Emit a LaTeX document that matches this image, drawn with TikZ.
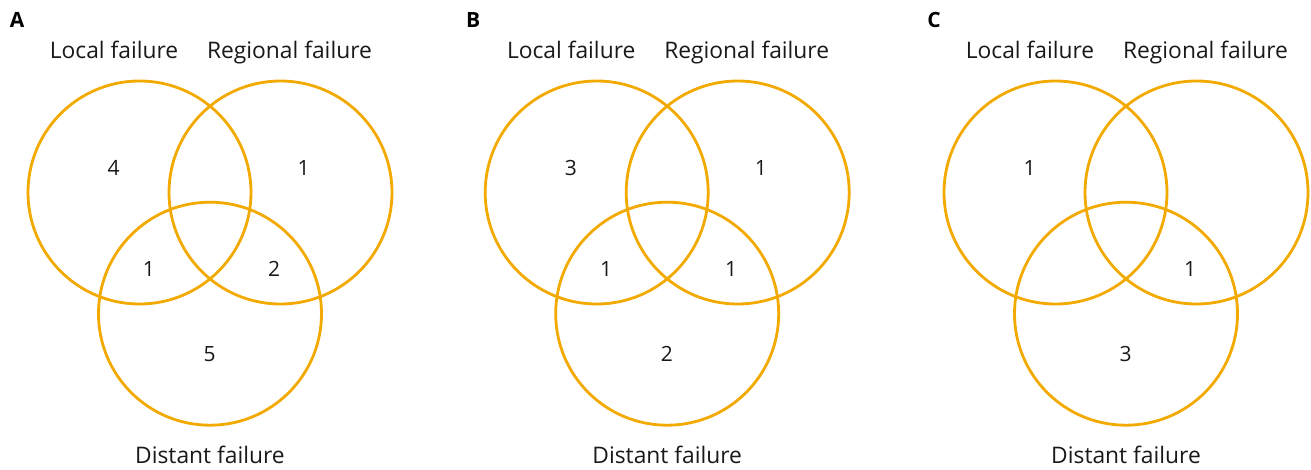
\documentclass[tikz,border=0pt]{standalone}
\usepackage{fontspec}
\setmainfont{Open Sans}
\definecolor{vennorange}{HTML}{F2A900}
\tikzset{
  venn/.style={circle, draw=vennorange, line width=2.8pt, minimum size=223pt, inner sep=0pt},
  setlabel/.style={font=\fontsize{22.8}{26}\selectfont, text=black!90, inner sep=0pt, anchor=base},
  count/.style={font=\fontsize{21}{24}\selectfont, text=black!90, inner sep=0pt},
  panel/.style={font=\bfseries\fontsize{21}{24}\selectfont, inner sep=0pt}
}
\begin{document}
\begin{tikzpicture}[x=1pt,y=-1pt]
\useasboundingbox (0,0) rectangle (1311,469);
% Panel A
\begin{scope}
\node[panel] (pA) at (17,20) {A};
\node[venn] (LA) at (139.5,192.5) {};
\node[venn] (RA) at (280.5,192.5) {};
\node[venn] (DA) at (210,313.7) {};
\node[setlabel] (lLA) at (114,58) {Local failure};
\node[setlabel] (lRA) at (289.5,58) {Regional failure};
\node[setlabel] (lDA) at (210,463) {Distant failure};
\node[count] (a1) at (113.7,168) {4};
\node[count] (a2) at (303.7,168) {1};
\node[count] (a3) at (149,269) {1};
\node[count] (a4) at (274,269) {2};
\node[count] (a5) at (209.7,354) {5};
\end{scope}
% Panel B
\begin{scope}[xshift=457.2pt]
\node[panel] (pB) at (16,20) {B};
\node[venn] (LB) at (139.5,192.5) {};
\node[venn] (RB) at (280.5,192.5) {};
\node[venn] (DB) at (210,313.7) {};
\node[setlabel] (lLB) at (114,58) {Local failure};
\node[setlabel] (lRB) at (289.5,58) {Regional failure};
\node[setlabel] (lDB) at (210,463) {Distant failure};
\node[count] (b1) at (113.7,168) {3};
\node[count] (b2) at (303.7,168) {1};
\node[count] (b3) at (149,269) {1};
\node[count] (b4) at (274,269) {1};
\node[count] (b5) at (209.7,354) {2};
\end{scope}
% Panel C
\begin{scope}[xshift=916pt]
\node[panel] (pC) at (18,20) {C};
\node[venn] (LC) at (139.5,192.5) {};
\node[venn] (RC) at (280.5,192.5) {};
\node[venn] (DC) at (210,313.7) {};
\node[setlabel] (lLC) at (114,58) {Local failure};
\node[setlabel] (lRC) at (289.5,58) {Regional failure};
\node[setlabel] (lDC) at (210,463) {Distant failure};
\node[count] (c1) at (113.7,168) {1};
\node[count] (c4) at (274,269) {1};
\node[count] (c5) at (209.7,354) {3};
\end{scope}
\end{tikzpicture}
\end{document}
